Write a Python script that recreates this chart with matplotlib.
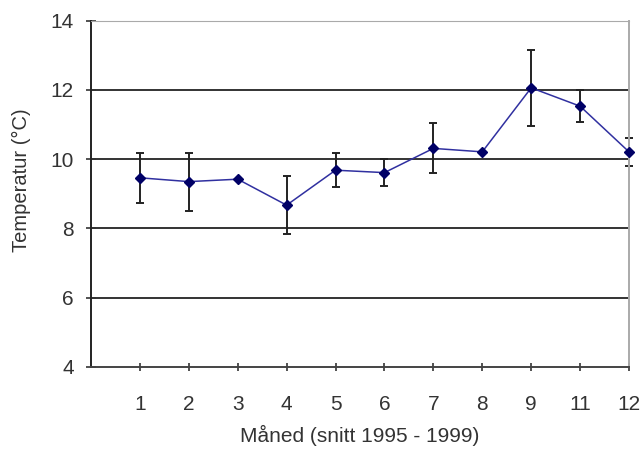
import numpy as np
import matplotlib
matplotlib.use("Agg")
import matplotlib.pyplot as plt

plt.rcParams['font.family'] = ['Liberation Sans', 'DejaVu Sans']

# data (month, mean temp, +- error)
months = ["1", "2", "3", "4", "5", "6", "7", "8", "9", "11", "12"]
temp = [9.46, 9.35, 9.42, 8.67, 9.68, 9.61, 10.31, 10.21, 12.06, 11.53, 10.21]
err = [0.72, 0.84, 0.0, 0.84, 0.50, 0.38, 0.72, 0.0, 1.09, 0.46, 0.40]

x = np.arange(1, len(months) + 1)

fig = plt.figure(figsize=(6.44, 4.5), dpi=100)
ax = fig.add_axes([0.1413, 0.185, 0.8354, 0.769])

for yv in [6, 8, 10, 12]:
    ax.axhline(yv, color="#333333", lw=1.4, zorder=1)

ax.errorbar(x, temp, yerr=err, fmt="none", ecolor="#222222", elinewidth=1.4,
            capsize=3, capthick=1.4, zorder=2, clip_on=False)
ax.plot(x, temp, color="#3030a0", lw=1.1, marker="D", ms=5.5,
        mfc="#000066", mec="#000066", zorder=3, clip_on=False)

ax.set_xlim(0, len(months))
ax.set_ylim(4, 14)
ax.set_yticks([4, 6, 8, 10, 12, 14])
ax.set_xticks(x)
ax.set_xticklabels(months)

ax.spines["left"].set_color("#222222")
ax.spines["left"].set_linewidth(1.4)
ax.spines["bottom"].set_color("#444444")
ax.spines["bottom"].set_linewidth(1.4)
ax.spines["top"].set_color("#aaaaaa")
ax.spines["right"].set_color("#aaaaaa")
ax.spines["right"].set_linewidth(1.4)

ax.tick_params(axis="y", direction="inout", length=7, width=1.2, labelsize=15,
               colors="#333333", pad=9)
ax.tick_params(axis="x", direction="inout", length=6, width=1.2, labelsize=15,
               colors="#333333", pad=17)

ax.set_xlabel("Måned (snitt 1995 - 1999)", fontsize=15, color="#333333")
ax.set_ylabel("Temperatur (°C)", fontsize=14.5, color="#333333")
ax.xaxis.set_label_coords(0.499, -0.168)
ax.yaxis.set_label_coords(-0.111, 0.54)

fig.savefig("out.png", dpi=100)
